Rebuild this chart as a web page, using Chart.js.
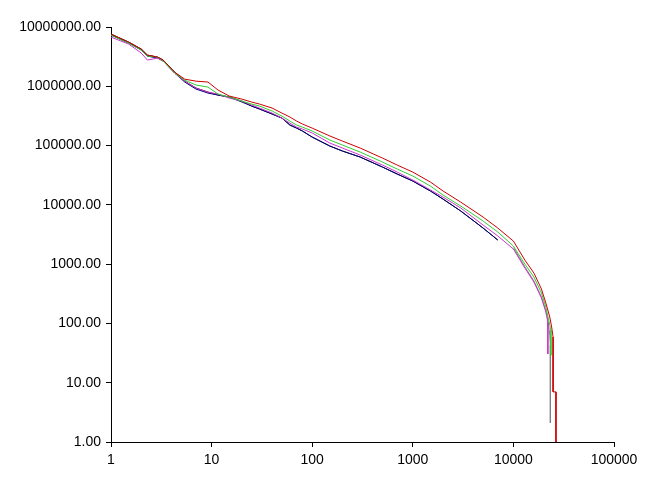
<!DOCTYPE html>
<html>
<head>
<meta charset="utf-8">
<script src="https://cdn.jsdelivr.net/npm/chart.js@4/dist/chart.umd.min.js"></script>
<style>
  body { margin: 0; background: #ffffff; }
  #chart { display: block; }
</style>
</head>
<body>
<canvas id="chart" width="655" height="487"></canvas>
<script>
/* data */

const xValues = [1, 1.5, 2, 2.3, 2.9, 3.3, 4.3, 5.4, 7, 9.2, 11.6, 15, 20, 25, 30, 40, 50, 60, 70, 80,
    100, 150, 200, 300, 500, 700, 1000, 1500, 2000, 3000, 5000, 7000, 10000, 13000, 16000, 19000, 21000];

const redY = [7.59e6, 5.56e6, 4.24e6, 3.36e6, 3.11e6, 2.77e6, 1.73e6, 1.32e6, 1.22e6, 1.18e6, 8.63e5, 6.84e5,
    6.08e5, 5.42e5, 5.01e5, 4.29e5, 3.53e5, 3.03e5, 2.59e5, 2.31e5, 1.97e5, 1.45e5, 1.19e5, 9.08e4, 6.15e4,
    4.69e4, 3.57e4, 2.42e4, 1.71e4, 1.11e4, 6.22e3, 4.06e3, 2.45e3, 1170, 708, 380, 221];
const redTailX = [22000, 23000, 24000, 24800, 24800, 26500, 26500];
const redTailY = [168, 128, 87, 59, 7, 7, 1];

const greenY = [7.30e6, 5.35e6, 4.08e6, 3.23e6, 3.11e6, 2.66e6, 1.67e6, 1.27e6, 1.05e6, 9.70e5, 7.38e5, 6.58e5,
    5.62e5, 5.01e5, 4.64e5, 3.82e5, 3.14e5, 2.59e5, 2.22e5, 2.05e5, 1.76e5, 1.24e5, 1.02e5, 7.77e4, 5.27e4,
    4.02e4, 3.06e4, 2.07e4, 1.46e4, 9.55e3, 5.33e3, 3.48e3, 2.02e3, 1000, 606, 326, 189];
const greenTailX = [22000, 23000, 23600, 23600];
const greenTailY = [133, 94, 77, 29];

const magentaY = [6.76e6, 5.15e6, 3.63e6, 2.77e6, 2.99e6, 2.66e6, 1.67e6, 1.22e6, 9.33e5, 7.98e5, 7.38e5, 6.32e5,
    5.62e5, 4.82e5, 4.29e5, 3.53e5, 2.91e5, 2.39e5, 2.05e5, 1.90e5, 1.63e5, 1.10e5, 9.08e4, 6.92e4, 4.69e4,
    3.57e4, 2.62e4, 1.78e4, 1.35e4, 8.84e3, 4.56e3, 2.98e3, 1.80e3, 859, 499, 268, 156];
const magentaTailX = [22000, 22000];
const magentaTailY = [106, 30.5];

const navyY = [7.30e6, 5.35e6, 4.08e6, 3.23e6, 2.99e6, 2.66e6, 1.67e6, 1.18e6, 8.97e5, 7.68e5, 7.11e5, 6.58e5,
    5.42e5, 4.64e5, 4.13e5, 3.40e5, 2.91e5, 2.22e5, 1.97e5, 1.76e5, 1.39e5, 9.81e4, 8.08e4, 6.40e4, 4.34e4,
    3.31e4, 2.52e4, 1.71e4, 1.25e4, 7.86e3, 4.06e3, 2.55e3];

const blackY = [7.59e6, 5.56e6, 4.24e6, 3.36e6, 3.11e6, 2.77e6, 1.73e6, 1.22e6, 9.33e5, 7.98e5, 7.11e5, 6.58e5,
    5.62e5, 4.64e5, 4.13e5, 3.40e5, 2.91e5, 2.22e5, 1.97e5, 1.76e5, 1.39e5, 9.81e4, 8.08e4, 6.40e4, 4.34e4,
    3.31e4, 2.52e4, 1.71e4, 1.25e4, 7.86e3, 4.06e3, 2.55e3];

const grayY = [null, null, null, null, null, null, null, null, null, null, null, null, null, null, null, null,
    null, null, null, null, null, null, null, null, null, null, null, null, null, null, null, null,
    1.9e3, 900, 520, 280, 165];
const grayTailX = [22000, 23000, 23300, 23300];
const grayTailY = [114, 64, 43, 2.1];

const xTickValues = [1, 10, 100, 1000, 10000, 100000];
const xTickLabels = ["1", "10", "100", "1000", "10000", "100000"];
const yTickValues = [1, 10, 100, 1000, 10000, 100000, 1000000, 10000000];
const yTickLabels = ["1.00", "10.00", "100.00", "1000.00", "10000.00", "100000.00", "1000000.00", "10000000.00"];

//turn x / y arrays into {x,y} points, skipping gaps
function toPoints(xs, ys) {
    return ys.map((y, i) => ({ x: xs[i], y: y })).filter(p => p.y !== null);
}

function makeDataset(color, points) {
    return {
        data: points,
        borderColor: color,
        borderWidth: 1,
        pointRadius: 0,
        fill: false,
        tension: 0
    };
}

function drawChart() {
    const ctx = document.getElementById("chart").getContext("2d");

    //first dataset is drawn on top
    const datasets = [
        makeDataset("#cc0000", toPoints(xValues, redY).concat(toPoints(redTailX, redTailY))),
        makeDataset("#33cc33", toPoints(xValues, greenY).concat(toPoints(greenTailX, greenTailY))),
        makeDataset("#cc33cc", toPoints(xValues, magentaY).concat(toPoints(magentaTailX, magentaTailY))),
        makeDataset("#000080", toPoints(xValues, navyY)),
        makeDataset("#000000", toPoints(xValues, blackY)),
        makeDataset("#808080", toPoints(xValues, grayY).concat(toPoints(grayTailX, grayTailY)))
    ];

    const font = { family: "'Liberation Sans', Arial, sans-serif", size: 14 };

    const config = {
        type: "line",
        data: { datasets: datasets },
        options: {
            responsive: false,
            animation: false,
            layout: { padding: { left: 0, right: 41, top: 27, bottom: 0 } },
            plugins: {
                legend: { display: false },
                tooltip: { enabled: false }
            },
            scales: {
                x: {
                    type: "logarithmic",
                    min: 1,
                    max: 100000,
                    afterBuildTicks: s => { s.ticks = xTickValues.map(v => ({ value: v })); },
                    afterFit: s => { s.height = 45; },
                    grid: { drawOnChartArea: false, drawTicks: true, tickLength: 5, color: "#000000" },
                    border: { display: true, color: "#000000", width: 1 },
                    ticks: {
                        color: "#000000",
                        font: font,
                        padding: 5,
                        maxRotation: 0,
                        autoSkip: false,
                        callback: (v) => xTickLabels[xTickValues.indexOf(v)]
                    }
                },
                y: {
                    type: "logarithmic",
                    min: 1,
                    max: 10000000,
                    afterBuildTicks: s => { s.ticks = yTickValues.map(v => ({ value: v })); },
                    afterFit: s => { s.width = 111; },
                    grid: { drawOnChartArea: false, drawTicks: true, tickLength: 5, color: "#000000" },
                    border: { display: true, color: "#000000", width: 1 },
                    ticks: {
                        color: "#000000",
                        font: font,
                        padding: 5,
                        autoSkip: false,
                        callback: (v) => yTickLabels[yTickValues.indexOf(v)]
                    }
                }
            }
        }
    };

    new Chart(ctx, config);
}

drawChart();
</script>
</body>
</html>
